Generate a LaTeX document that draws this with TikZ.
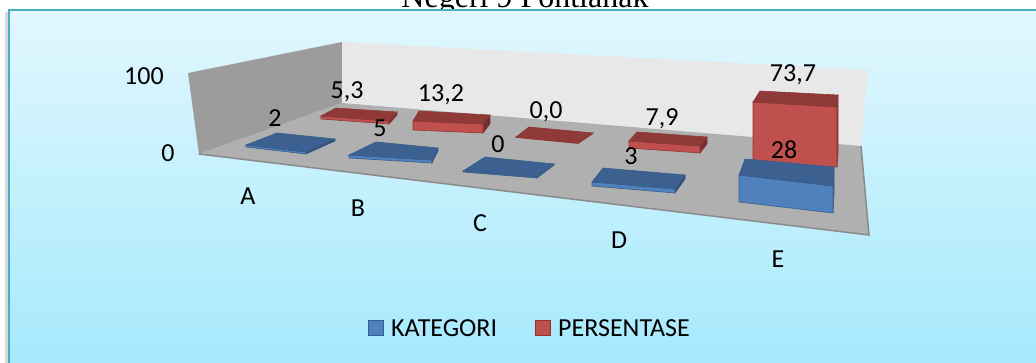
\documentclass[tikz,border=0pt]{standalone}
\usepackage{fontspec}
\setmainfont{Carlito}
\newfontfamily\titlefont{Liberation Serif}
\usetikzlibrary{calc,positioning}

\definecolor{frameline}{HTML}{4BACC6}
\definecolor{bgtop}{HTML}{E2F7FE}
\definecolor{bgbot}{HTML}{A4E9FD}
\definecolor{katfront}{HTML}{4F81BD}
\definecolor{kattop}{HTML}{3C6090}
\definecolor{katline}{HTML}{385D8A}
\definecolor{perfront}{HTML}{C0504D}
\definecolor{pertop}{HTML}{8F3A37}
\definecolor{perline}{HTML}{8C3836}
\definecolor{floorgray}{HTML}{B0B0B0}
\definecolor{floorline}{HTML}{8A8A8A}
\definecolor{wallgray}{HTML}{9C9C9C}
\definecolor{backgray}{HTML}{E8E8E8}

\tikzset{
  lbl/.style={font=\fontsize{26}{30}\selectfont, inner sep=0pt, text depth=0pt},
  legbox/.style={draw=#1line, fill=#1front, line width=1pt, minimum size=15pt, inner sep=0pt},
}

% one 3D bar: colour prefix, front-left, back-left, back-right, front-right, height
\newcommand{\slab}[6]{%
  \filldraw[#1line, line width=0.6pt, fill=#1top!80!black] (#5) -- (#4) -- ($(#4)+(0,#6)$) -- ($(#5)+(0,#6)$) -- cycle;
  \filldraw[#1line, line width=0.6pt, fill=#1front] (#2) -- (#5) -- ($(#5)+(0,#6)$) -- ($(#2)+(0,#6)$) -- cycle;
  \filldraw[#1line, line width=0.6pt, fill=#1top] (#2) -- (#3) -- (#4) -- (#5) -- cycle;
}

\begin{document}
\begin{tikzpicture}[x=1pt, y=-1pt]
\useasboundingbox (0,0) rectangle (1036,362);

% title, partly hidden behind the chart
\node[font=\titlefont\fontsize{32}{36}\selectfont, anchor=base, inner sep=0pt] (title) at (525,7) {Negeri 9 Pontianak};

% chart area
\fill[gray!30] (5,12) rectangle (9,372);
\shade[top color=bgtop, bottom color=bgbot] (9,10) rectangle (1046,372);
\draw[frameline, line width=2pt] (9,372) -- (9,10) -- (1046,10);

% walls and floor
\fill[wallgray] (188,73) -- (342,42) -- (342,103) -- (199,154) -- cycle;
\fill[backgray] (342,42) -- (868,70) -- (861,146) -- (342,103) -- cycle;
\fill[floorgray] (199,154) -- (342,103) -- (861,146) -- (869,235) -- cycle;
\draw[floorline, line width=1.5pt] (199,154) -- (869,235) -- (861,146);

% PERSENTASE
\slab{per}{321,116}{336,108}{397,112}{389,121}{3}
\slab{per}{413,121}{419,111}{490,115}{483,124}{9}
\slab{per}{516,137}{529,127}{593,133}{578,143}{0.5}
\slab{per}{629,141}{637,132}{707,137}{700,146}{7}
\slab{per}{753,102}{760,91}{838,95}{837,107}{60}

% KATEGORI
\slab{kat}{246,145}{277,133}{335,139}{306,152}{2}
\slab{kat}{349,155}{376,142}{438,148}{432,160}{3}
\slab{kat}{463,171}{485,157}{554,164}{537,177}{1}
\slab{kat}{592,182}{603,168}{685,175}{675,189}{4}
\slab{kat}{739,175}{745,159}{834,167}{833,186}{27}

% axis values
\node[lbl] (ax100) at (144,76) {100};
\node[lbl] (ax0) at (168,153) {0};

% data labels
\node[lbl] (perA) at (347,90) {5,3};
\node[lbl] (perB) at (441,93) {13,2};
\node[lbl] (perC) at (546,110) {0,0};
\node[lbl] (perD) at (662,117) {7,9};
\node[lbl] (perE) at (793,73) {73,7};
\node[lbl] (katA) at (275,118) {2};
\node[lbl] (katB) at (380,128) {5};
\node[lbl] (katC) at (498,144) {0};
\node[lbl] (katD) at (631,156) {3};
\node[lbl] (katE) at (784,150) {28};

% categories
\node[lbl] (catA) at (248,196) {A};
\node[lbl] (catB) at (358,208) {B};
\node[lbl] (catC) at (480,223) {C};
\node[lbl] (catD) at (619,240) {D};
\node[lbl] (catE) at (778,259) {E};

% legend
\node[legbox=kat] (legkat) at (376,328) {};
\node[lbl, right=7pt of legkat] (legkattxt) {KATEGORI};
\node[legbox=per] (legper) at (543,328) {};
\node[lbl, right=7pt of legper] (legpertxt) {PERSENTASE};
\end{tikzpicture}
\end{document}
